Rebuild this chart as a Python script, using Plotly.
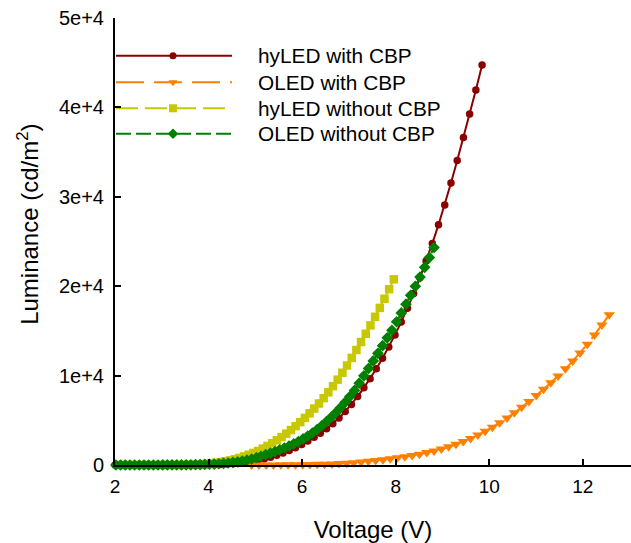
import numpy as np
import plotly.graph_objects as go

# ---------------- data ----------------
series_names = ["hyLED with CBP", "OLED with CBP", "hyLED without CBP", "OLED without CBP"]

# hyLED with CBP
v_hy_cbp = np.round(2.0 + 0.133 * np.arange(60), 3)
l_hy_cbp = [0, 0, 0, 0, 0, 1, 1, 1, 2, 2,
            3, 4, 6, 9, 15, 25, 40, 65, 100, 150,
            215, 300, 400, 520, 670, 870, 1090, 1340, 1620, 1940,
            2300, 2690, 3110, 3560, 4050, 4620, 5260, 5980, 6780, 7670,
            8630, 9660, 10760, 11940, 13200, 14550, 15990, 17530, 19180, 20940,
            22810, 24790, 26880, 29080, 31550, 34050, 36620, 39250, 41950, 44750]

# OLED with CBP
v_oled_cbp = np.round(4.92 + 0.156 * np.arange(50), 3)
l_oled_cbp = [4, 6, 8, 11, 15, 22, 30, 41, 55, 73,
              96, 125, 160, 205, 265, 340, 420, 505, 600, 700,
              810, 930, 1065, 1215, 1385, 1575, 1790, 2040, 2320, 2630,
              2970, 3350, 3770, 4230, 4730, 5270, 5850, 6460, 7100, 7770,
              8470, 9200, 9960, 10760, 11620, 12530, 13500, 14550, 15650, 16800]

# hyLED without CBP
v_hy_nocbp = np.round(2.06 + 0.1 * np.arange(60), 3)
l_hy_nocbp = [0, 0, 0, 0, 1, 1, 1, 1, 2, 2,
              3, 5, 8, 13, 21, 32, 48, 70, 100, 140,
              190, 255, 330, 420, 520, 640, 790, 960, 1150, 1350,
              1570, 1840, 2130, 2440, 2770, 3125, 3505, 3910, 4340, 4795,
              5275, 5780, 6315, 6880, 7480, 8130, 8820, 9550, 10320, 11130,
              11980, 12860, 13760, 14680, 15620, 16580, 17570, 18600, 19670, 20770]

# OLED without CBP
v_oled_nocbp = np.round(2.02 + 0.1 * np.arange(69), 3)
l_oled_nocbp = [0, 0, 0, 0, 0, 0, 0, 0, 1, 2,
                3, 4, 6, 9, 13, 18, 25, 34, 46, 62,
                82, 108, 140, 178, 225, 285, 355, 440, 540, 660,
                815, 981, 1151, 1326, 1506, 1696, 1901, 2123, 2363, 2625,
                2913, 3231, 3581, 3966, 4386, 4841, 5331, 5856, 6416, 7016,
                7656, 8341, 9150, 9980, 10800, 11640, 12490, 13350, 14220, 15066,
                16026, 17006, 17986, 18976, 19991, 21031, 22106, 23206, 24331, 25501]

x_tickvals = [2, 4, 6, 8, 10, 12]
y_tickvals = [0, 10000, 20000, 30000, 40000, 50000]
y_ticktext = ["0", "1e+4", "2e+4", "3e+4", "4e+4", "5e+4"]
x_title = "Voltage (V)"
y_title = "Luminance (cd/m<sup>2</sup>)"

# ---------------- styles ----------------
colors = ["#8b0000", "#ff8000", "#c8c800", "#008000"]
symbols = ["circle", "triangle-down", "square", "diamond"]
sizes = [7.5, 10, 8.5, 9]
legend_sizes = [7, 8, 8, 8]
dashes = ["solid", "28px,10px", "22px,7px", "15px,5px"]
FONT = "Arial, Liberation Sans, sans-serif"

xs = [v_hy_cbp, v_oled_cbp, v_hy_nocbp, v_oled_nocbp]
ys = [l_hy_cbp, l_oled_cbp, l_hy_nocbp, l_oled_nocbp]

fig = go.Figure()
for name, x, y, c, s, sz, d in zip(series_names, xs, ys, colors, symbols, sizes, dashes):
    fig.add_trace(go.Scatter(
        x=x, y=y, name=name, mode="lines+markers",
        line=dict(color=c, width=2, dash=d),
        marker=dict(symbol=s, size=sz, color=c, line=dict(width=0)),
        cliponaxis=False, showlegend=False,
    ))

# ---------------- custom legend (long line keys) ----------------
W, H = 516, 447            # plot area size in px
key_x0, key_x1, key_xm = 1, 117, 58
text_x = 141
row_y = [37.7, 64.2, 90.3, 115.8]
for name, c, s, sz, d, ry in zip(series_names, colors, symbols, legend_sizes, dashes, row_y):
    fig.add_trace(go.Scatter(
        x=[key_x0, key_x1], y=[ry, ry], mode="lines",
        line=dict(color=c, width=2, dash=d),
        xaxis="x2", yaxis="y2", showlegend=False, hoverinfo="skip",
    ))
    fig.add_trace(go.Scatter(
        x=[key_xm], y=[ry], mode="markers",
        marker=dict(symbol=s, size=sz, color=c, line=dict(width=0)),
        xaxis="x2", yaxis="y2", showlegend=False, hoverinfo="skip",
    ))
    fig.add_annotation(x=text_x, y=ry, xref="x2", yref="y2", text=name,
                       showarrow=False, xanchor="left", yanchor="middle",
                       font=dict(family=FONT, size=20.8, color="black"))

# y-axis title as an annotation (sits slightly above the plot's centre, as in the reference)
fig.add_annotation(x=-0.169, y=0.539, xref="paper", yref="paper", text=y_title, textangle=-90,
                   showarrow=False, xanchor="center", yanchor="middle",
                   font=dict(family=FONT, size=24, color="black"))

fig.update_layout(
    width=631, height=543,
    margin=dict(l=115, r=0, t=18, b=78),
    paper_bgcolor="white", plot_bgcolor="white",
    showlegend=False,
    font=dict(family=FONT, color="black"),
    xaxis=dict(
        range=[2, 13.03], tickvals=x_tickvals, ticks="inside", ticklen=6,
        tickwidth=1.5, tickcolor="black", showline=True, linecolor="black",
        linewidth=2, showgrid=False, zeroline=False,
        tickfont=dict(family=FONT, size=19, color="black"),
        ticklabelstandoff=3,
        title=dict(text=x_title, font=dict(family=FONT, size=24), standoff=26),
    ),
    yaxis=dict(
        range=[0, 50000], tickvals=y_tickvals, ticktext=y_ticktext, ticks="inside",
        ticklen=6, tickwidth=1.5, tickcolor="black", showline=True, linecolor="black",
        linewidth=2, showgrid=False, zeroline=False,
        tickfont=dict(family=FONT, size=20, color="black"),
        ticklabelstandoff=5,
    ),
    xaxis2=dict(range=[0, W], overlaying="x", anchor="y2", visible=False, fixedrange=True),
    yaxis2=dict(range=[H, 0], overlaying="y", anchor="x2", visible=False, fixedrange=True),
)

fig.write_html("out.html")
